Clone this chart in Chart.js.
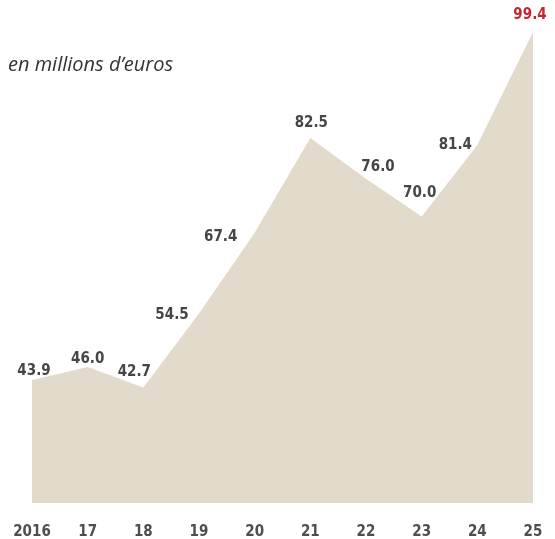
<!DOCTYPE html>
<html>
<head>
<meta charset="utf-8">
<script src="https://cdn.jsdelivr.net/npm/chart.js@4"></script>
<style>
    html, body { margin: 0; padding: 0; background: #fff; }
    #wrap { position: relative; width: 555px; height: 539px; }
    #title {
        position: absolute; left: 8px; top: 50px;
        font-family: "Open Sans", sans-serif; font-style: italic;
        font-size: 20px; color: #333; white-space: nowrap;
    }
</style>
</head>
<body>
<div id="wrap">
    <canvas id="chart" width="555" height="539"></canvas>
    <div id="title">en millions d’euros</div>
</div>
<script>
// Data
const years = ["2016", "17", "18", "19", "20", "21", "22", "23", "24", "25"];
const values = [43.9, 46.0, 42.7, 54.5, 67.4, 82.5, 76.0, 70.0, 81.4, 99.4];
const valueLabels = ["43.9", "46.0", "42.7", "54.5", "67.4", "82.5", "76.0", "70.0", "81.4", "99.4"];

// label offsets from each point (dx, dy)
const labelOffsets = [[2, -9], [0, -8], [-9, -15], [-27, 2], [-34, 4], [1, -15], [12, -12], [-2, -23], [-22, 0], [-3, -17]];

const labelFont = 'bold 15px "DejaVu Sans Condensed", sans-serif';

// Draw value labels
const valueLabelPlugin = {
    id: "valueLabels",
    afterDatasetsDraw(chart) {
        let ctx = chart.ctx;
        let meta = chart.getDatasetMeta(0);
        ctx.save();
        ctx.font = labelFont;
        ctx.textAlign = "center";
        ctx.textBaseline = "middle";
        meta.data.forEach(function(pt, i) {
            ctx.fillStyle = i === values.length - 1 ? "#c0282e" : "#464646";
            ctx.fillText(valueLabels[i], pt.x + labelOffsets[i][0], pt.y + labelOffsets[i][1]);
        });
        ctx.restore();
    }
};

new Chart(document.getElementById("chart"), {
    type: "line",
    data: {
        labels: years,
        datasets: [{
            data: values,
            fill: "start",
            backgroundColor: "#e2dacb",
            borderWidth: 0,
            pointRadius: 0,
            tension: 0
        }]
    },
    options: {
        responsive: false,
        animation: false,
        layout: { padding: { left: 32, right: 22, top: 32, bottom: 0 } },
        plugins: {
            legend: { display: false },
            tooltip: { enabled: false }
        },
        scales: {
            x: {
                offset: false,
                grid: { display: false },
                border: { display: false },
                ticks: {
                    color: "#4e4e4e",
                    padding: 12,
                    maxRotation: 0,
                    autoSkip: false,
                    font: { family: '"DejaVu Sans Condensed", sans-serif', size: 15, weight: "bold" }
                },
                afterFit(scale) { scale.height = 36; }
            },
            y: {
                display: false,
                min: 24.3,
                max: 99.4
            }
        }
    },
    plugins: [valueLabelPlugin]
});
</script>
</body>
</html>
